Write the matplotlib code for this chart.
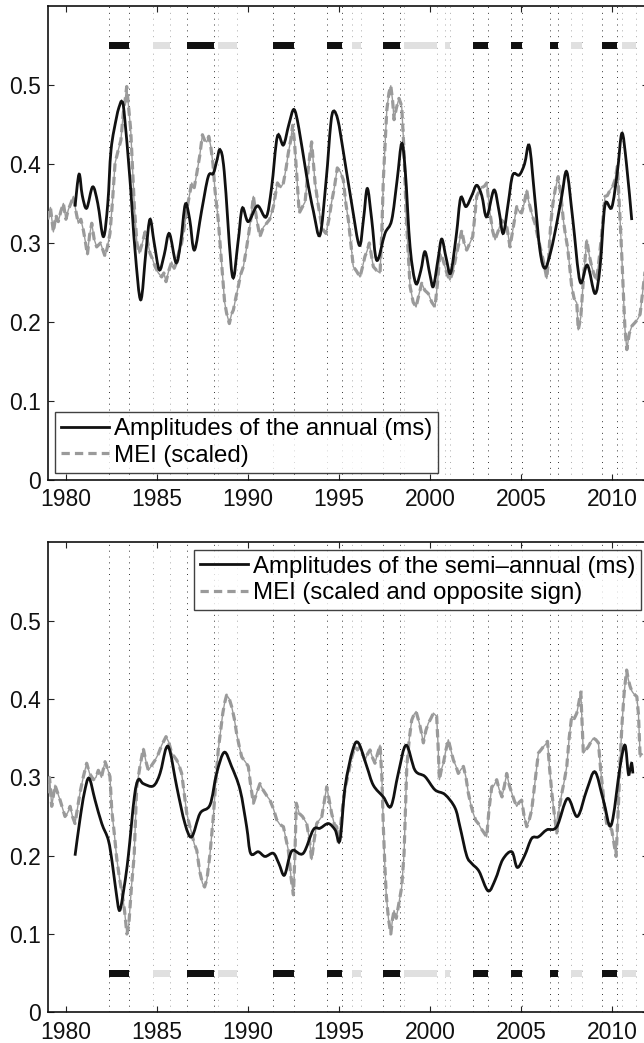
#!/usr/bin/env python3
"""Annual / semi-annual amplitudes compared with the MEI index (two panels)."""

import matplotlib

matplotlib.use("Agg")
import matplotlib.pyplot as plt  # noqa: E402
from matplotlib.lines import Line2D  # noqa: E402
from matplotlib.patches import PathPatch  # noqa: E402
from matplotlib.path import Path  # noqa: E402

plt.rcParams["font.family"] = ["Liberation Sans", "DejaVu Sans"]

# --- data ------------------------------------------------------------------
annual_years = [
    1980.5, 1980.72, 1980.9, 1981.14, 1981.47, 1981.75, 1982.06, 1982.3,
    1982.48, 1982.79, 1982.95, 1983.07, 1983.2, 1983.52, 1983.8, 1984.11,
    1984.4, 1984.62, 1984.85, 1985.13, 1985.4, 1985.68, 1986.05, 1986.3,
    1986.56, 1986.8, 1987.06, 1987.45, 1987.82, 1988.1, 1988.3, 1988.47,
    1988.7, 1989.14, 1989.45, 1989.69, 1990.02, 1990.52, 1991.0, 1991.3,
    1991.62, 1991.95, 1992.25, 1992.53, 1992.8, 1993.23, 1993.6, 1993.96,
    1994.3, 1994.55, 1994.71, 1994.95, 1995.24, 1995.7, 1996.12, 1996.35,
    1996.56, 1996.8, 1997.08, 1997.53, 1997.9, 1998.2, 1998.45, 1998.65,
    1998.91, 1999.22, 1999.5, 1999.73, 2000.0, 2000.19, 2000.45, 2000.65,
    2000.9, 2001.14, 2001.45, 2001.69, 2001.98, 2002.3, 2002.57, 2002.85,
    2003.12, 2003.52, 2003.8, 2004.03, 2004.3, 2004.55, 2004.91, 2005.2,
    2005.46, 2005.75, 2006.05, 2006.32, 2006.65, 2006.97, 2007.25, 2007.52,
    2007.85, 2008.25, 2008.65, 2009.07, 2009.35, 2009.62, 2009.99, 2010.3,
    2010.55, 2010.8, 2011.09,
]
annual_values = [
    0.346, 0.387, 0.36, 0.344, 0.371, 0.35, 0.308, 0.35,
    0.418, 0.46, 0.474, 0.479, 0.465, 0.38, 0.29, 0.228,
    0.29, 0.33, 0.3, 0.266, 0.285, 0.312, 0.275, 0.3,
    0.349, 0.33, 0.291, 0.34, 0.384, 0.388, 0.405, 0.418,
    0.39, 0.259, 0.3, 0.344, 0.327, 0.347, 0.333, 0.37,
    0.435, 0.424, 0.45, 0.469, 0.445, 0.384, 0.34, 0.31,
    0.38, 0.45, 0.467, 0.455, 0.416, 0.35, 0.297, 0.33,
    0.369, 0.33, 0.278, 0.312, 0.329, 0.38, 0.426, 0.39,
    0.295, 0.249, 0.265, 0.289, 0.26, 0.245, 0.28, 0.305,
    0.28, 0.262, 0.31, 0.357, 0.346, 0.36, 0.373, 0.36,
    0.333, 0.367, 0.34, 0.312, 0.35, 0.386, 0.386, 0.4,
    0.423, 0.36, 0.29, 0.268, 0.29, 0.325, 0.36, 0.39,
    0.33, 0.251, 0.272, 0.236, 0.27, 0.348, 0.345, 0.39,
    0.439, 0.4, 0.329,
]

mei_years = [
    1979.0, 1979.15, 1979.31, 1979.45, 1979.58, 1979.72, 1979.86, 1980.0,
    1980.13, 1980.27, 1980.41, 1980.55, 1980.68, 1980.82, 1980.96, 1981.08,
    1981.18, 1981.3, 1981.42, 1981.55, 1981.69, 1981.9, 1982.15, 1982.28,
    1982.42, 1982.55, 1982.7, 1982.88, 1983.02, 1983.15, 1983.25, 1983.34,
    1983.45, 1983.56, 1983.76, 1983.9, 1984.03, 1984.2, 1984.35, 1984.5,
    1984.62, 1984.75, 1984.9, 1985.08, 1985.26, 1985.38, 1985.5, 1985.65,
    1985.81, 1985.95, 1986.09, 1986.22, 1986.36, 1986.5, 1986.64, 1986.78,
    1986.91, 1987.05, 1987.19, 1987.35, 1987.5, 1987.62, 1987.74, 1987.85,
    1987.96, 1988.08, 1988.19, 1988.37, 1988.5, 1988.62, 1988.72, 1988.83,
    1988.98, 1989.1, 1989.2, 1989.33, 1989.47, 1989.6, 1989.75, 1989.9,
    1990.02, 1990.16, 1990.3, 1990.48, 1990.66, 1990.85, 1991.03, 1991.2,
    1991.4, 1991.5, 1991.62, 1991.8, 1991.95, 1992.1, 1992.22, 1992.35,
    1992.46, 1992.55, 1992.64, 1992.82, 1992.98, 1993.14, 1993.3, 1993.42,
    1993.5, 1993.6, 1993.69, 1993.85, 1994.06, 1994.18, 1994.29, 1994.45,
    1994.6, 1994.75, 1994.91, 1995.08, 1995.24, 1995.38, 1995.52, 1995.65,
    1995.79, 1995.95, 1996.16, 1996.3, 1996.43, 1996.55, 1996.67, 1996.78,
    1996.89, 1997.08, 1997.26, 1997.35, 1997.44, 1997.55, 1997.63, 1997.75,
    1997.85, 1997.95, 1998.03, 1998.15, 1998.3, 1998.38, 1998.45, 1998.57,
    1998.69, 1998.8, 1998.91, 1999.08, 1999.24, 1999.4, 1999.55, 1999.72,
    1999.91, 2000.1, 2000.28, 2000.42, 2000.55, 2000.7, 2000.83, 2000.95,
    2001.1, 2001.28, 2001.47, 2001.6, 2001.75, 2001.88, 2002.02, 2002.2,
    2002.35, 2002.45, 2002.57, 2002.7, 2002.85, 2003.0, 2003.12, 2003.2,
    2003.3, 2003.45, 2003.58, 2003.75, 2003.94, 2004.08, 2004.22, 2004.3,
    2004.4, 2004.58, 2004.77, 2004.9, 2005.04, 2005.18, 2005.32, 2005.4,
    2005.5, 2005.62, 2005.77, 2005.95, 2006.14, 2006.3, 2006.42, 2006.52,
    2006.64, 2006.76, 2006.88, 2007.05, 2007.2, 2007.33, 2007.45, 2007.56,
    2007.68, 2007.79, 2007.92, 2008.07, 2008.15, 2008.29, 2008.45, 2008.62,
    2008.75, 2008.89, 2009.02, 2009.16, 2009.3, 2009.44, 2009.53, 2009.62,
    2009.75, 2009.9, 2010.05, 2010.17, 2010.3, 2010.45, 2010.55, 2010.63,
    2010.72, 2010.82, 2010.95, 2011.1, 2011.3, 2011.45, 2011.55, 2011.7,
    2011.85, 2012.0,
]
mei_values = [
    0.33, 0.345, 0.314, 0.335, 0.327, 0.34, 0.35, 0.33,
    0.342, 0.35, 0.359, 0.34, 0.325, 0.33, 0.316, 0.3,
    0.285, 0.31, 0.325, 0.305, 0.295, 0.3, 0.283, 0.295,
    0.312, 0.35, 0.401, 0.418, 0.43, 0.464, 0.48, 0.498,
    0.47, 0.443, 0.346, 0.3, 0.287, 0.3, 0.314, 0.3,
    0.287, 0.28, 0.27, 0.262, 0.257, 0.262, 0.251, 0.265,
    0.276, 0.268, 0.276, 0.29, 0.3, 0.32, 0.342, 0.36,
    0.376, 0.37, 0.388, 0.41, 0.437, 0.43, 0.428, 0.435,
    0.422, 0.4, 0.367, 0.329, 0.29, 0.253, 0.225, 0.211,
    0.198, 0.21, 0.215, 0.23, 0.245, 0.26, 0.27, 0.29,
    0.308, 0.33, 0.359, 0.33, 0.308, 0.32, 0.325, 0.33,
    0.346, 0.36, 0.376, 0.37, 0.376, 0.395, 0.414, 0.43,
    0.449, 0.43, 0.401, 0.338, 0.345, 0.352, 0.39, 0.415,
    0.428, 0.4, 0.376, 0.35, 0.321, 0.315, 0.312, 0.33,
    0.352, 0.37, 0.395, 0.39, 0.38, 0.35, 0.329, 0.3,
    0.27, 0.265, 0.257, 0.27, 0.283, 0.29, 0.3, 0.285,
    0.27, 0.265, 0.262, 0.31, 0.38, 0.43, 0.468, 0.49,
    0.499, 0.48, 0.456, 0.47, 0.483, 0.478, 0.473, 0.42,
    0.338, 0.29, 0.245, 0.225, 0.219, 0.235, 0.249, 0.24,
    0.236, 0.225, 0.219, 0.25, 0.287, 0.28, 0.27, 0.26,
    0.253, 0.265, 0.287, 0.3, 0.316, 0.3, 0.291, 0.3,
    0.308, 0.33, 0.359, 0.365, 0.37, 0.372, 0.376, 0.36,
    0.338, 0.315, 0.304, 0.315, 0.329, 0.325, 0.321, 0.31,
    0.295, 0.32, 0.346, 0.34, 0.338, 0.35, 0.367, 0.355,
    0.346, 0.335, 0.325, 0.305, 0.287, 0.27, 0.255, 0.28,
    0.325, 0.35, 0.367, 0.384, 0.36, 0.329, 0.31, 0.295,
    0.27, 0.245, 0.23, 0.224, 0.19, 0.206, 0.26, 0.304,
    0.285, 0.27, 0.26, 0.253, 0.28, 0.312, 0.335, 0.359,
    0.36, 0.367, 0.372, 0.38, 0.397, 0.329, 0.28, 0.236,
    0.19, 0.165, 0.185, 0.195, 0.2, 0.205, 0.21, 0.24,
    0.27, 0.275,
]

semi_years = [
    1980.5, 1980.77, 1981.01, 1981.27, 1981.6, 1981.97, 1982.33, 1982.55,
    1982.75, 1982.95, 1983.2, 1983.43, 1983.76, 1983.98, 1984.25, 1984.8,
    1985.17, 1985.5, 1985.72, 1986.09, 1986.54, 1986.91, 1987.37, 1987.92,
    1988.28, 1988.7, 1989.1, 1989.57, 1989.93, 1990.15, 1990.57, 1990.94,
    1991.4, 1991.7, 1992.0, 1992.3, 1992.5, 1993.04, 1993.59, 1993.96,
    1994.42, 1994.79, 1995.06, 1995.34, 1995.76, 1996.07, 1996.53, 1996.89,
    1997.44, 1997.86, 1998.26, 1998.69, 1999.18, 1999.73, 2000.28, 2000.83,
    2001.38, 2001.65, 2002.02, 2002.3, 2002.7, 2003.2, 2003.6, 2004.0,
    2004.5, 2004.8, 2005.2, 2005.59, 2005.96, 2006.42, 2006.97, 2007.56,
    2008.1, 2008.62, 2009.07, 2009.53, 2009.96, 2010.45, 2010.72, 2010.9,
    2011.0, 2011.09, 2011.15,
]
semi_values = [
    0.2, 0.246, 0.28, 0.299, 0.271, 0.241, 0.22, 0.19,
    0.155, 0.13, 0.16, 0.2, 0.275, 0.297, 0.292, 0.289,
    0.305, 0.337, 0.333, 0.288, 0.241, 0.224, 0.254, 0.265,
    0.305, 0.332, 0.314, 0.284, 0.237, 0.203, 0.205, 0.199,
    0.203, 0.19, 0.175, 0.2, 0.207, 0.203, 0.233, 0.235,
    0.241, 0.233, 0.22, 0.288, 0.335, 0.344, 0.314, 0.29,
    0.275, 0.263, 0.305, 0.341, 0.309, 0.301, 0.284, 0.278,
    0.261, 0.237, 0.2, 0.19, 0.18, 0.155, 0.17, 0.195,
    0.205, 0.185, 0.2, 0.222, 0.224, 0.233, 0.237, 0.273,
    0.25, 0.284, 0.307, 0.271, 0.239, 0.314, 0.341, 0.305,
    0.31, 0.318, 0.305,
]

mei_neg_years = [
    1979.0, 1979.1, 1979.22, 1979.4, 1979.55, 1979.68, 1979.82, 1979.95,
    1980.1, 1980.23, 1980.36, 1980.5, 1980.63, 1980.77, 1980.95, 1981.14,
    1981.3, 1981.51, 1981.65, 1981.78, 1981.95, 1982.15, 1982.3, 1982.42,
    1982.52, 1982.65, 1982.79, 1982.95, 1983.1, 1983.22, 1983.35, 1983.45,
    1983.6, 1983.75, 1983.89, 1984.07, 1984.25, 1984.4, 1984.53, 1984.7,
    1984.9, 1985.08, 1985.26, 1985.5, 1985.65, 1985.81, 1986.09, 1986.22,
    1986.36, 1986.5, 1986.64, 1986.78, 1986.91, 1987.05, 1987.19, 1987.35,
    1987.5, 1987.62, 1987.75, 1987.92, 1988.1, 1988.25, 1988.37, 1988.5,
    1988.62, 1988.72, 1988.83, 1988.98, 1989.11, 1989.25, 1989.38, 1989.52,
    1989.66, 1989.85, 1990.02, 1990.15, 1990.3, 1990.48, 1990.66, 1990.8,
    1990.94, 1991.08, 1991.21, 1991.4, 1991.58, 1991.75, 1991.95, 1992.1,
    1992.22, 1992.38, 1992.5, 1992.58, 1992.66, 1992.82, 1993.0, 1993.23,
    1993.38, 1993.5, 1993.64, 1993.78, 1994.06, 1994.2, 1994.33, 1994.47,
    1994.6, 1994.75, 1994.88, 1994.97, 1995.1, 1995.24, 1995.38, 1995.52,
    1995.7, 1995.88, 1996.02, 1996.16, 1996.3, 1996.43, 1996.58, 1996.71,
    1996.85, 1996.98, 1997.12, 1997.26, 1997.36, 1997.44, 1997.52, 1997.6,
    1997.72, 1997.85, 1997.95, 1998.03, 1998.15, 1998.3, 1998.45, 1998.58,
    1998.73, 1998.87, 1999.0, 1999.12, 1999.24, 1999.35, 1999.46, 1999.55,
    1999.64, 1999.78, 1999.91, 2000.05, 2000.19, 2000.37, 2000.45, 2000.52,
    2000.63, 2000.74, 2000.88, 2001.01, 2001.15, 2001.29, 2001.42, 2001.56,
    2001.7, 2001.84, 2001.98, 2002.11, 2002.25, 2002.38, 2002.52, 2002.66,
    2002.8, 2002.95, 2003.12, 2003.25, 2003.4, 2003.53, 2003.67, 2003.8,
    2003.96, 2004.1, 2004.22, 2004.36, 2004.5, 2004.64, 2004.77, 2004.9,
    2005.04, 2005.18, 2005.32, 2005.45, 2005.59, 2005.75, 2005.96, 2006.1,
    2006.23, 2006.35, 2006.46, 2006.58, 2006.7, 2006.85, 2006.97, 2007.1,
    2007.25, 2007.38, 2007.52, 2007.65, 2007.79, 2007.93, 2008.07, 2008.18,
    2008.29, 2008.36, 2008.43, 2008.56, 2008.7, 2008.84, 2008.98, 2009.12,
    2009.26, 2009.38, 2009.5, 2009.6, 2009.71, 2009.85, 2009.99, 2010.12,
    2010.23, 2010.35, 2010.45, 2010.56, 2010.67, 2010.75, 2010.81, 2010.9,
    2011.0, 2011.1, 2011.19, 2011.28, 2011.37, 2011.46, 2011.55, 2011.65,
]
mei_neg_values = [
    0.28, 0.3, 0.263, 0.29, 0.28, 0.271, 0.26, 0.25,
    0.255, 0.263, 0.25, 0.241, 0.26, 0.28, 0.3, 0.318,
    0.305, 0.297, 0.3, 0.309, 0.3, 0.32, 0.31, 0.301,
    0.258, 0.23, 0.197, 0.17, 0.15, 0.13, 0.1, 0.11,
    0.16, 0.2, 0.288, 0.314, 0.337, 0.32, 0.309, 0.315,
    0.322, 0.33, 0.341, 0.352, 0.345, 0.331, 0.322, 0.315,
    0.305, 0.28, 0.254, 0.24, 0.229, 0.215, 0.207, 0.18,
    0.165, 0.16, 0.17, 0.203, 0.25, 0.3, 0.335, 0.36,
    0.382, 0.395, 0.405, 0.4, 0.39, 0.375, 0.356, 0.34,
    0.326, 0.32, 0.314, 0.29, 0.267, 0.28, 0.292, 0.285,
    0.28, 0.275, 0.271, 0.26, 0.246, 0.24, 0.237, 0.22,
    0.207, 0.17, 0.15, 0.2, 0.267, 0.254, 0.25, 0.241,
    0.22, 0.195, 0.22, 0.241, 0.25, 0.27, 0.288, 0.27,
    0.254, 0.24, 0.237, 0.216, 0.24, 0.271, 0.29, 0.305,
    0.325, 0.339, 0.335, 0.339, 0.33, 0.322, 0.33, 0.335,
    0.325, 0.318, 0.33, 0.341, 0.3, 0.237, 0.19, 0.15,
    0.12, 0.1, 0.12, 0.13, 0.12, 0.14, 0.16, 0.203,
    0.314, 0.35, 0.373, 0.38, 0.384, 0.375, 0.365, 0.355,
    0.344, 0.36, 0.369, 0.375, 0.382, 0.378, 0.34, 0.297,
    0.31, 0.318, 0.335, 0.348, 0.335, 0.322, 0.315, 0.305,
    0.31, 0.314, 0.3, 0.28, 0.265, 0.254, 0.245, 0.241,
    0.235, 0.23, 0.224, 0.26, 0.288, 0.29, 0.297, 0.285,
    0.275, 0.29, 0.305, 0.29, 0.28, 0.27, 0.263, 0.268,
    0.271, 0.25, 0.237, 0.245, 0.258, 0.29, 0.331, 0.335,
    0.339, 0.342, 0.346, 0.31, 0.28, 0.25, 0.229, 0.26,
    0.28, 0.295, 0.314, 0.35, 0.378, 0.375, 0.382, 0.395,
    0.409, 0.37, 0.331, 0.335, 0.339, 0.345, 0.35, 0.348,
    0.344, 0.31, 0.284, 0.26, 0.241, 0.237, 0.233, 0.215,
    0.199, 0.26, 0.322, 0.37, 0.407, 0.425, 0.437, 0.425,
    0.416, 0.41, 0.407, 0.405, 0.403, 0.38, 0.326, 0.33,
]

# warm (El Nino) and cold (La Nina) episodes, start/end in years
warm_start = [1982.38, 1986.65, 1991.38, 1994.36, 1997.41, 2002.37, 2004.47, 2006.62, 2009.43]
warm_end = [1983.49, 1988.11, 1992.51, 1995.18, 1998.36, 2003.19, 2005.08, 2007.02, 2010.27]
cold_start = [1984.80, 1988.38, 1995.72, 1998.56, 2000.82, 2007.75, 2010.57]
cold_end = [1985.70, 1989.38, 1996.19, 2000.41, 2001.13, 2008.36, 2011.31]

x_ticks = [1980, 1985, 1990, 1995, 2000, 2005, 2010]
y_ticks = [0, 0.1, 0.2, 0.3, 0.4, 0.5]

BLACK = "#111111"
GREY = "#9a9a9a"
LIGHT = "#e0e0e0"
MEI_DASHES = (2.6, 1.6)


def smooth_path(xs, ys):
    """Catmull-Rom curve through the read points, as cubic Bezier segments."""
    points = list(zip(xs, ys))
    vertices = [points[0]]
    codes = [Path.MOVETO]
    for i in range(len(points) - 1):
        p0 = points[max(i - 1, 0)]
        p1 = points[i]
        p2 = points[i + 1]
        p3 = points[min(i + 2, len(points) - 1)]
        c1 = (p1[0] + (p2[0] - p0[0]) / 6, p1[1] + (p2[1] - p0[1]) / 6)
        c2 = (p2[0] - (p3[0] - p1[0]) / 6, p2[1] - (p3[1] - p1[1]) / 6)
        vertices += [c1, c2, p2]
        codes += [Path.CURVE4] * 3
    return Path(vertices, codes)


def draw_episodes(axis, bar_y):
    for start, end in zip(warm_start, warm_end):
        for edge in (start, end):
            axis.axvline(edge, color="#333333", linewidth=0.7,
                         linestyle=(0, (1, 5)), zorder=1)
        axis.broken_barh([(start, end - start)], (bar_y - 0.0045, 0.009),
                         facecolors=BLACK, zorder=2)
    for start, end in zip(cold_start, cold_end):
        for edge in (start, end):
            axis.axvline(edge, color="#aaaaaa", linewidth=0.7,
                         linestyle=(0, (1, 5)), zorder=1)
        axis.broken_barh([(start, end - start)], (bar_y - 0.0045, 0.009),
                         facecolors=LIGHT, zorder=2)


def style_axis(axis):
    axis.set_xlim(1979, 2012)
    axis.set_ylim(0, 0.6)
    axis.set_xticks(x_ticks)
    axis.set_yticks(y_ticks)
    axis.set_yticklabels(["0", "0.1", "0.2", "0.3", "0.4", "0.5"])
    axis.tick_params(direction="in", length=4, width=0.8, labelsize=16.5,
                     top=True, right=True, colors="#222222",
                     labelcolor="#111111")
    axis.tick_params(axis="x", pad=6)
    axis.tick_params(axis="y", pad=5)
    for spine in axis.spines.values():
        spine.set_linewidth(1.2)
        spine.set_color("#111111")


def draw_panel(axis, years, values, label, mei_x, mei_y, mei_label, bar_y, legend_loc):
    draw_episodes(axis, bar_y)
    axis.plot(mei_x, mei_y, color=GREY, linewidth=1.0, zorder=3)
    axis.plot(mei_x, mei_y, color=GREY, linewidth=2.3, dashes=MEI_DASHES, zorder=3)
    axis.add_patch(PathPatch(smooth_path(years, values), facecolor="none",
                             edgecolor=BLACK, linewidth=2.0, zorder=4))
    handles = [
        Line2D([], [], color=BLACK, linewidth=2.0),
        Line2D([], [], color=GREY, linewidth=2.3, dashes=MEI_DASHES),
    ]
    legend = axis.legend(
        handles, [label, mei_label],
        loc=legend_loc, fontsize=17.3, frameon=True, fancybox=False,
        borderaxespad=0.3, borderpad=0.25, handlelength=2.0,
        handletextpad=0.2, labelspacing=0.2,
    )
    legend.get_frame().set_edgecolor("#111111")
    legend.get_frame().set_linewidth(1.0)
    style_axis(axis)


figure = plt.figure(figsize=(6.44, 10.43), dpi=100)
top = figure.add_axes([0.0741, 0.5398, 0.9326, 0.4545])
bottom = figure.add_axes([0.0741, 0.0294, 0.9326, 0.4506])

draw_panel(top, annual_years, annual_values, "Amplitudes of the annual (ms)",
           mei_years, mei_values, "MEI (scaled)", 0.55, "lower left")
draw_panel(bottom, semi_years, semi_values,
           "Amplitudes of the semi\u2013annual (ms)",
           mei_neg_years, mei_neg_values, "MEI (scaled and opposite sign)",
           0.05, "upper right")

figure.savefig("out.png", dpi=100)
plt.close(figure)
